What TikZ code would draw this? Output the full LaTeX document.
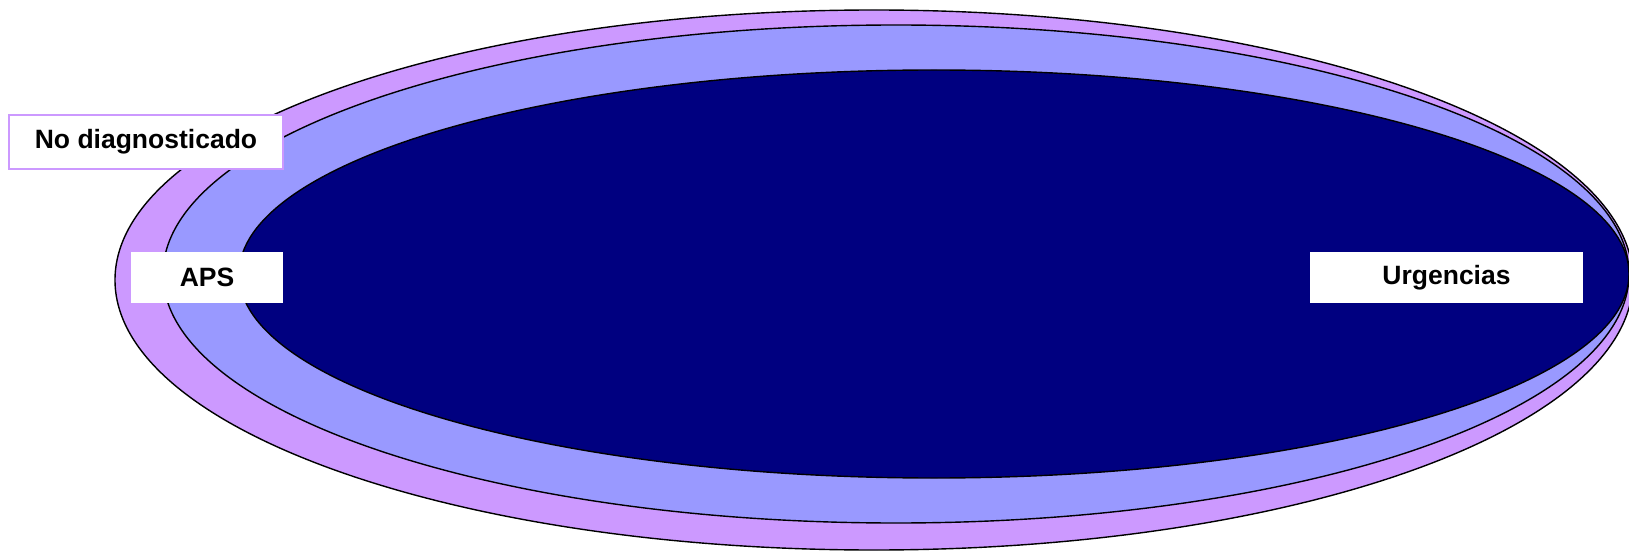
\documentclass[tikz,border=0pt]{standalone}
\usepackage{fontspec}
\setmainfont{Liberation Sans}
\definecolor{outerpurple}{HTML}{CC99FF}
\definecolor{midblue}{HTML}{9999FF}
\definecolor{navyblue}{HTML}{000080}
\tikzset{
  ring/.style={draw=black, line width=1.4pt},
  labelbox/.style={fill=white, inner sep=0pt, font=\fontsize{26.5}{31}\selectfont\bfseries, text=black},
}
\begin{document}
\begin{tikzpicture}[x=1pt,y=-1pt]
\useasboundingbox (0,0) rectangle (1629,553);
\clip (0,0) rectangle (1629,553);
\fill[white] (0,0) rectangle (1629,553);
\path[ring, fill=outerpurple] (874,280) ellipse [x radius=759, y radius=270];
\path[ring, fill=midblue] (896,274) ellipse [x radius=733, y radius=249];
\path[ring, fill=navyblue] (934,274) ellipse [x radius=695, y radius=204];
\node[labelbox, draw=outerpurple, line width=1.5pt, minimum width=274pt, minimum height=54pt] (nodiag) at (146,142) {No diagnosticado};
\node[labelbox, minimum width=152pt, minimum height=51pt] (aps) at (207,277.5) {APS};
\node[labelbox, minimum width=273pt, minimum height=51pt] (urg) at (1446.5,277.5) {Urgencias};
\end{tikzpicture}
\end{document}
